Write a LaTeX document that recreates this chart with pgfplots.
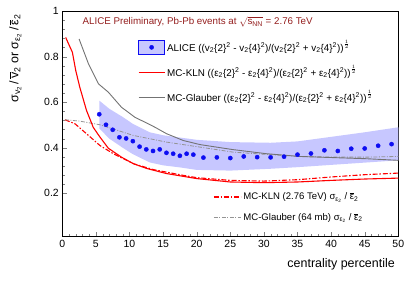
\documentclass[border=0pt]{standalone}
\usepackage{pgfplots}
\pgfplotsset{compat=1.18}
\usepackage{fontspec}
\setmainfont{Liberation Sans}
\definecolor{bandcol}{rgb}{0.78,0.78,1}
\definecolor{titlered}{rgb}{0.58,0.12,0.12}
\definecolor{glgray}{gray}{0.45}
\definecolor{glgraylight}{gray}{0.58}
\definecolor{ptblue}{rgb}{0.05,0.05,0.95}
\definecolor{klnred}{rgb}{1,0,0}
\newcommand{\half}{\raisebox{1.0ex}{$\scriptstyle\frac{1}{2}$}}
\begin{document}
\begin{tikzpicture}
\useasboundingbox (-62.3bp,-44.3bp) rectangle (352.7bp,236.7bp);
\pgfplotsset{common/.style={scale only axis, width=336bp, height=225.7bp,
  xmin=0, xmax=50, ymin=0.01, ymax=1, at={(0,0)}, anchor=south west}}
\begin{axis}[common,
  tick align=inside, tick pos=left,
  xtick={0,5,...,50}, minor x tick num=4,
  ytick={0.2,0.4,0.6,0.8,1}, yticklabels={0.2,0.4,0.6,0.8,1}, minor y tick num=4,
  major tick length=5bp, minor tick length=2.5bp,
  axis line style={line width=0.7pt},
  /pgf/number format/assume math mode=true,
  tick label style={font=\fontsize{10.5}{12}\selectfont},
  xlabel={centrality percentile},
  xlabel style={at={(rel axis cs:1,0)}, anchor=base east, yshift=-31bp, font=\fontsize{12.5}{14}\selectfont},
  ylabel={σ\textsubscript{v\textsubscript{2}}\,/\,$\overline{\mbox{v}}$\textsubscript{2} or σ\textsubscript{ε\textsubscript{2}}\,/\,$\overline{\mbox{ε}}$\textsubscript{2}},
  ylabel style={at={(axis description cs:-0.14,1)}, anchor=east, font=\fontsize{12.5}{14}\selectfont},
  legend cell align=left,
  legend style={draw=none, fill=none, at={(rel axis cs:0.44,0.222)}, anchor=north west,
    row sep=4bp, nodes={text height=9bp, text depth=3.5bp, font=\fontsize{9.6}{11}\selectfont}},
]
\addplot[fill=bandcol, draw=none, forget plot] coordinates {
(5.5,0.607)(7,0.571)(9,0.535)(10.5,0.505)(13,0.468)(15,0.455)(17.5,0.445)(20,0.435)(25,0.425)(31,0.422)(35,0.428)(40,0.448)(45,0.468)(50,0.49)
(50,0.345)(45,0.335)(40,0.325)(35,0.315)(31,0.308)(25,0.30)(20,0.303)(17.5,0.314)(15,0.323)(13,0.336)(10.5,0.372)(9,0.40)(7,0.44)(5.5,0.485)
} -- cycle;
\addplot[draw=klnred, line width=1.1bp, dash pattern=on 5bp off 1.8bp on 1.5bp off 1.8bp,
  legend image code/.code={\draw[draw=klnred, line width=1.1bp, dash pattern=on 5bp off 1.8bp on 1.5bp off 1.8bp] (0bp,0bp) -- (27bp,0bp);}] coordinates {
(0.4,0.523)(1.9,0.505)(3.9,0.454)(5.6,0.41)(7.6,0.374)(10.6,0.33)(13.6,0.304)(18,0.279)(20,0.269)(25,0.257)(30,0.254)(35,0.26)(40,0.272)(45,0.282)(50,0.289)
};
\addlegendentry{MC-KLN (2.76 TeV) σ\textsubscript{ε\textsubscript{2}} / $\overline{\mbox{ε}}$\textsubscript{2}}
\addplot[draw=glgraylight, line width=0.8bp, dash pattern=on 4bp off 1.5bp on 1bp off 1.5bp,
  legend image code/.code={\draw[draw=glgraylight, line width=0.8bp, dash pattern=on 4bp off 1.5bp on 1bp off 1.5bp] (0bp,0bp) -- (27bp,0bp);}] coordinates {
(0.4,0.523)(2.6,0.517)(5.6,0.501)(10.6,0.454)(15.5,0.425)(20.5,0.403)(25.4,0.381)(30.4,0.371)(35.3,0.362)(40.3,0.359)(45.3,0.359)(50,0.362)
};
\addlegendentry{MC-Glauber (64 mb) σ\textsubscript{ε\textsubscript{2}} / $\overline{\mbox{ε}}$\textsubscript{2}}
\node[anchor=west, text=titlered, font=\fontsize{9.8}{11}\selectfont] at (rel axis cs:0.05,0.951)
  {ALICE Preliminary, Pb-Pb events at $\sqrt{\mbox{s}_{\mbox{\scriptsize NN}}}$ = 2.76 TeV};
\end{axis}
\begin{axis}[common, hide axis,
  legend cell align=left,
  legend style={draw=none, fill=none, at={(rel axis cs:0.216,0.893)}, anchor=north west,
    row sep=5bp, nodes={text height=12bp, text depth=4bp, font=\fontsize{9.9}{11}\selectfont}},
]
\addlegendimage{legend image code/.code={\draw[fill=bandcol, draw=ptblue, line width=0.6bp] (0bp,-7.3bp) rectangle (26bp,7.3bp); \fill[ptblue] (13bp,0bp) circle (2.1bp);}}
\addlegendentry{ALICE ((v\textsubscript{2}\{2\}\textsuperscript{2} - v\textsubscript{2}\{4\}\textsuperscript{2})/(v\textsubscript{2}\{2\}\textsuperscript{2} + v\textsubscript{2}\{4\}\textsuperscript{2}))\half}
\addplot[draw=klnred, line width=1.1bp,
  legend image code/.code={\draw[draw=klnred, line width=1.1bp] (0bp,0bp) -- (26bp,0bp);}] coordinates {
(0.5,0.884)(1.5,0.819)(2,0.739)(2.6,0.666)(3.6,0.564)(4.6,0.49)(5.6,0.447)(6.85,0.398)(8.8,0.359)(10.6,0.33)(12.6,0.309)(15.5,0.287)(20,0.265)(25,0.25)(30,0.247)(35,0.25)(40,0.257)(45,0.263)(50,0.267)
};
\addlegendentry{MC-KLN ((ε\textsubscript{2}\{2\}\textsuperscript{2} - ε\textsubscript{2}\{4\}\textsuperscript{2})/(ε\textsubscript{2}\{2\}\textsuperscript{2} + ε\textsubscript{2}\{4\}\textsuperscript{2}))\half}
\addplot[draw=glgray, line width=0.9bp,
  legend image code/.code={\draw[draw=glgray, line width=0.9bp] (0bp,0bp) -- (26bp,0bp);}] coordinates {
(2.5,0.877)(3.9,0.768)(5.4,0.68)(6.85,0.644)(8.8,0.578)(10.8,0.534)(12.8,0.505)(13.8,0.49)(15.5,0.462)(18,0.432)(20.5,0.414)(25.4,0.392)(30.4,0.374)(35.3,0.362)(40.3,0.357)(45.3,0.352)(50,0.345)
};
\addlegendentry{MC-Glauber ((ε\textsubscript{2}\{2\}\textsuperscript{2} - ε\textsubscript{2}\{4\}\textsuperscript{2})/(ε\textsubscript{2}\{2\}\textsuperscript{2} + ε\textsubscript{2}\{4\}\textsuperscript{2}))\half}
\addplot[only marks, mark=*, mark size=2.1bp, ptblue, forget plot] coordinates {
(5.5,0.547)(6.5,0.501)(7.5,0.479)(8.5,0.446)(9.5,0.441)(10.5,0.429)(11.5,0.405)(12.5,0.393)(13.5,0.386)(14.5,0.393)(15.5,0.378)(16.5,0.374)(17.5,0.365)(18.5,0.374)(19.5,0.370)
(21,0.357)(23,0.358)(25,0.355)(27,0.362)(29,0.359)(31,0.358)(33,0.361)(35,0.370)(37,0.375)(39,0.389)(41,0.386)(43,0.396)(45,0.397)(47,0.409)(49,0.416)
};
\end{axis}
\end{tikzpicture}
\end{document}
